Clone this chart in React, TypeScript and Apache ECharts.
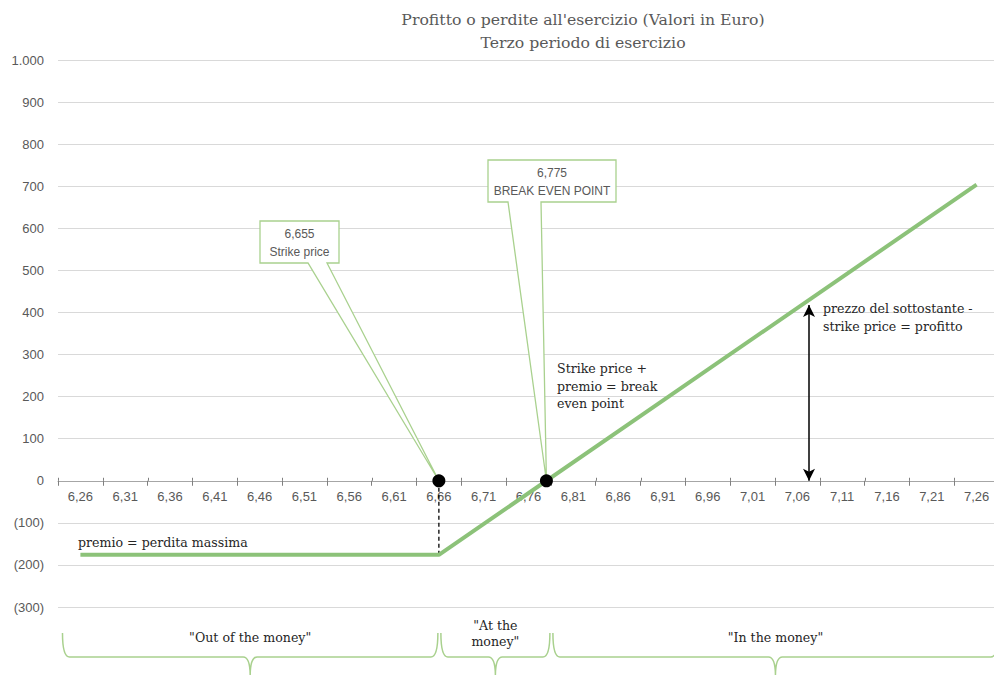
import React, { useEffect, useRef } from "react";
import * as echarts from "echarts";

const titleLines = ["Profitto o perdite all'esercizio (Valori in Euro)", "Terzo periodo di esercizio"];
const xTickLabels = ["6,26", "6,31", "6,36", "6,41", "6,46", "6,51", "6,56", "6,61", "6,66", "6,71", "6,76", "6,81", "6,86", "6,91", "6,96", "7,01", "7,06", "7,11", "7,16", "7,21", "7,26"];
const xRange = [6.23, 7.28];
const tickBoundaries = xTickLabels.map((_, i) => 6.23 + 0.05 * i).concat([7.28]);
const payoffPrice = [6.255, 6.655, 7.255];
const payoffValue = [-176, -176, 704];
const strikePrice = 6.655;
const breakEvenPrice = 6.775;
const markerPrices = [strikePrice, breakEvenPrice];
const calloutValues = ["6,655", "6,775"];
const calloutTexts = ["Strike price", "BREAK EVEN POINT"];
const yMin = -300;
const yMax = 1000;
const yStep = 100;
const arrowPrice = 7.068;
const arrowTop = 418;
const zoneNames = ['"Out of the money"', '"At the\nmoney"', '"In the money"'];
const zoneBounds = [6.235, 6.655, 6.78, 7.28];

const SERIF = "'DejaVu Serif', 'Liberation Serif', serif";
const SANS = "'Liberation Sans', Arial, sans-serif";
const GREEN = "#8cc279";
const LIGHT_GREEN = "#a9d18e";
const GRAY_TEXT = "#595959";
const DARK_TEXT = "#262626";

const GRID_LEFT = 58;
const GRID_TOP = 60;
const GRID_WIDTH = 941;
const GRID_HEIGHT = 547;

function fmtY(v: number) {
  if (v < 0) return "(" + Math.abs(v) + ")";
  if (v >= 1000) return Math.floor(v / 1000) + "." + String(v % 1000).padStart(3, "0");
  return String(v);
}

export default function App() {
  const ref = useRef<HTMLDivElement>(null);
  useEffect(() => {
    if (!ref.current) return;
    const chart = echarts.init(ref.current, undefined, { renderer: "svg" });
    chart.setOption({
      animation: false,
      backgroundColor: "#ffffff",
      grid: {
        left: GRID_LEFT,
        top: GRID_TOP,
        width: GRID_WIDTH,
        height: GRID_HEIGHT,
        containLabel: false,
        outerBoundsMode: "none",
      },
      xAxis: [
        {
          type: "category",
          data: xTickLabels,
          boundaryGap: true,
          position: "bottom",
          axisLine: { show: true, onZero: false, lineStyle: { color: "#a6a6a6", width: 1 } },
          axisTick: { show: true, length: 5, interval: 0, lineStyle: { color: "#7f7f7f" } },
          axisLabel: { interval: 0, color: GRAY_TEXT, fontSize: 13, fontFamily: SANS, margin: 9 },
          splitLine: { show: false },
        },
        {
          type: "value",
          min: xRange[0],
          max: xRange[1],
          show: false,
          axisLine: { onZero: false },
          splitLine: { show: false },
        },
      ],
      yAxis: {
        type: "value",
        min: yMin,
        max: yMax,
        interval: yStep,
        axisLine: { show: false, onZero: false },
        axisTick: { show: false },
        axisLabel: { color: GRAY_TEXT, fontSize: 13, fontFamily: SANS, margin: 14, formatter: fmtY },
        splitLine: { lineStyle: { color: "#d9d9d9", width: 1 } },
      },
      series: [
        {
          type: "line",
          xAxisIndex: 1,
          data: payoffPrice.map((p, i) => [p, payoffValue[i]]),
          symbol: "none",
          lineStyle: { color: GREEN, width: 4 },
          z: 3,
          markLine: {
            silent: true,
            symbol: ["arrow", "arrow"],
            symbolSize: [9, 12],
            label: { show: false },
            lineStyle: { color: "#000", width: 1.5, type: "solid" },
            data: [[{ coord: [arrowPrice, 0] }, { coord: [arrowPrice, arrowTop] }]],
          },
        },
        {
          type: "line",
          xAxisIndex: 1,
          data: [[strikePrice, payoffValue[0]], [strikePrice, 0]],
          symbol: "none",
          lineStyle: { color: "#000", width: 1.3, type: [4, 3] },
          z: 2,
        },
        {
          type: "scatter",
          xAxisIndex: 1,
          data: markerPrices.map((p) => [p, 0]),
          symbol: "circle",
          symbolSize: 13,
          itemStyle: { color: "#000", opacity: 1 },
          z: 6,
        },
      ],
    });

    const px = (x: number, y: number) => chart.convertToPixel({ xAxisIndex: 1, yAxisIndex: 0 }, [x, y]) as number[];
    const zero = px(xRange[0], 0)[1];
    const gridBottomPx = GRID_TOP + GRID_HEIGHT;

    const graphics: any[] = [];

    titleLines.forEach((t, i) => {
      graphics.push({
        type: "text",
        x: 583,
        y: 19 + i * 23,
        style: { text: t, fill: GRAY_TEXT, font: `15.7px ${SERIF}`, align: "center", verticalAlign: "middle" },
      });
    });

    // upper halves of x-axis ticks
    tickBoundaries.forEach((b) => {
      const x = px(b, 0)[0];
      graphics.push({
        type: "line",
        shape: { x1: Math.round(x) + 0.5, y1: zero - 3, x2: Math.round(x) + 0.5, y2: zero },
        style: { stroke: "#7f7f7f", lineWidth: 1 },
        z: 4,
      });
    });

    // callouts
    const boxes = [
      { l: 260, r: 339, t: 221, b: 263, w1: 308, w2: 327 },
      { l: 488, r: 616, t: 160, b: 202, w1: 508, w2: 541 },
    ];
    boxes.forEach((bx, i) => {
      const tip = px(markerPrices[i], 0);
      graphics.push({
        type: "polygon",
        shape: {
          points: [[bx.l, bx.t], [bx.r, bx.t], [bx.r, bx.b], [bx.w2, bx.b], [tip[0], tip[1]], [bx.w1, bx.b], [bx.l, bx.b]],
        },
        style: { fill: "#ffffff", stroke: LIGHT_GREEN, lineWidth: 1.3 },
        z: 1,
      });
      const cx = (bx.l + bx.r) / 2;
      graphics.push({
        type: "text",
        x: cx,
        y: bx.t + 13,
        style: { text: calloutValues[i], fill: GRAY_TEXT, font: `12px ${SANS}`, align: "center", verticalAlign: "middle" },
        z: 2,
      });
      graphics.push({
        type: "text",
        x: cx,
        y: bx.t + 31,
        style: { text: calloutTexts[i], fill: GRAY_TEXT, font: `12px ${SANS}`, align: "center", verticalAlign: "middle" },
        z: 2,
      });
    });

    // text annotations
    const annotations = [
      { text: "premio = perdita massima", x: 78, y: 543 },
      { text: "Strike price +\npremio = break\neven point", x: 557, y: 369 },
      { text: "prezzo del sottostante -\nstrike price = profitto", x: 823, y: 309 },
    ];
    annotations.forEach((a) => {
      graphics.push({
        type: "text",
        x: a.x,
        y: a.y - 9,
        style: { text: a.text, fill: DARK_TEXT, font: `12.6px ${SERIF}`, lineHeight: 17.5, align: "left", verticalAlign: "top" },
        z: 5,
      });
    });

    // braces
    const yTop = 633;
    const yMid = 657;
    const yBot = 676;
    for (let i = 0; i < 3; i++) {
      const x0 = px(zoneBounds[i], 0)[0] + (i === 0 ? 0 : 2);
      const x1 = px(zoneBounds[i + 1], 0)[0] - 1;
      const m = (x0 + x1) / 2;
      const d =
        `M ${x0} ${yTop} Q ${x0} ${yMid} ${x0 + 7} ${yMid} L ${m - 7} ${yMid} Q ${m} ${yMid} ${m} ${yBot} ` +
        `M ${m} ${yBot} Q ${m} ${yMid} ${m + 7} ${yMid} L ${x1 - 7} ${yMid} Q ${x1} ${yMid} ${x1} ${yTop}`;
      const name = "brace" + i;
      echarts.graphic.registerShape(name, echarts.graphic.extendPath(d, {}));
      graphics.push({
        type: name,
        x: 0,
        y: 0,
        style: { fill: "none", stroke: LIGHT_GREEN, lineWidth: 1.5 },
        z: 1,
      });
      const lines = zoneNames[i].split("\n");
      graphics.push({
        type: "text",
        x: m,
        y: lines.length > 1 ? 617 : 629,
        style: { text: zoneNames[i], fill: DARK_TEXT, font: `12.6px ${SERIF}`, lineHeight: 16.5, align: "center", verticalAlign: "top" },
        z: 5,
      });
    }

    chart.setOption({
      xAxis: [{ offset: -(gridBottomPx - zero) }, {}],
      graphic: graphics,
    });
    return () => chart.dispose();
  }, []);
  return <div ref={ref} style={{ width: 994, height: 675, position: "absolute", left: 0, top: 0 }} />;
}
